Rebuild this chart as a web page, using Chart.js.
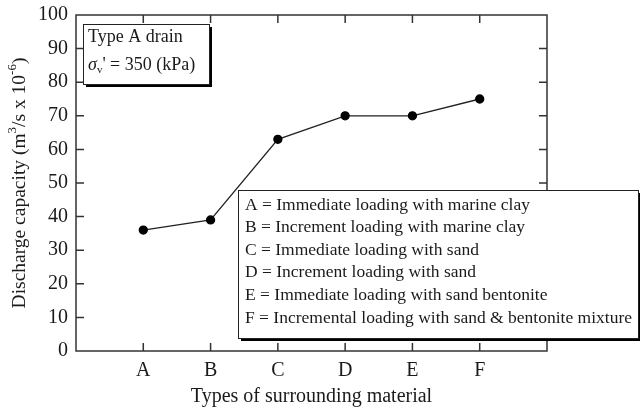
<!DOCTYPE html>
<html>
<head>
<meta charset="utf-8">
<script src="https://cdn.jsdelivr.net/npm/chart.js@4.4.1/dist/chart.umd.min.js"></script>
<style>
  html, body { margin: 0; padding: 0; background: #fff; }
  #wrap { width: 640px; height: 409px; }
</style>
</head>
<body>
<div id="wrap"><canvas id="dischargeChart" width="640" height="409"></canvas></div>
<script>
// data
const categories = ["A", "B", "C", "D", "E", "F"];
const capacity = [36, 39, 63, 70, 70, 75];
const yMin = 0, yMax = 100, yStep = 10;

const noteLines = ["Type A drain", "350 (kPa)"];
const legendLines = [
    "A = Immediate loading with marine clay",
    "B = Increment loading with marine clay",
    "C = Immediate loading with sand",
    "D = Increment loading with sand",
    "E = Immediate loading with sand bentonite",
    "F = Incremental loading with sand & bentonite mixture"
];

const FONT = "'Liberation Serif', 'Times New Roman', serif";
const INK = "#1a1a1a";

// x axis has an empty slot at each end, like the original
const xLabels = [""].concat(categories, [""]);
const yValues = [null].concat(capacity, [null]);

function shadowBox(ctx, x, y, w, h) {
    ctx.save();
    ctx.fillStyle = "#000";
    ctx.fillRect(x + 3, y + 3, w, h);
    ctx.fillStyle = "#fff";
    ctx.fillRect(x, y, w, h);
    ctx.strokeStyle = "#222";
    ctx.lineWidth = 1;
    ctx.strokeRect(x + 0.5, y + 0.5, w, h);
    ctx.restore();
}

const framePlugin = {
    id: "frame",
    afterDatasetsDraw(chart) {
        const ctx = chart.ctx;
        const a = chart.chartArea;
        const xs = chart.scales.x, ys = chart.scales.y;
        ctx.save();
        ctx.strokeStyle = "#333";
        ctx.lineWidth = 1.5;
        ctx.strokeRect(a.left, a.top, a.right - a.left, a.bottom - a.top);
        ctx.beginPath();
        // inward ticks, all four sides
        for (let i = 1; i <= categories.length; i++) {
            const px = xs.getPixelForValue(i);
            ctx.moveTo(px, a.bottom); ctx.lineTo(px, a.bottom - 8);
            ctx.moveTo(px, a.top); ctx.lineTo(px, a.top + 8);
        }
        for (let v = yMin + yStep; v < yMax; v += yStep) {
            const py = ys.getPixelForValue(v);
            ctx.moveTo(a.left, py); ctx.lineTo(a.left + 8, py);
            ctx.moveTo(a.right, py); ctx.lineTo(a.right - 8, py);
        }
        ctx.stroke();
        ctx.restore();
    },
    afterDraw(chart) {
        const ctx = chart.ctx;
        const a = chart.chartArea;
        ctx.save();
        ctx.fillStyle = INK;
        ctx.textBaseline = "middle";

        // note box, top left
        shadowBox(ctx, a.left + 7, a.top + 9, 126, 60);
        ctx.fillStyle = INK;
        ctx.font = "18px " + FONT;
        ctx.fillText(noteLines[0], a.left + 12, a.top + 22);
        let x = a.left + 12, y = a.top + 50;
        ctx.font = "italic 18px " + FONT;
        ctx.fillText("\u03c3", x, y);
        x += ctx.measureText("\u03c3").width;
        ctx.font = "11px " + FONT;
        ctx.fillText("v", x, y + 5);
        x += ctx.measureText("v").width;
        ctx.font = "18px " + FONT;
        ctx.fillText("' = " + noteLines[1], x, y);

        // legend box
        shadowBox(ctx, 238, 190, 400, 148);
        ctx.fillStyle = INK;
        ctx.font = "17.5px " + FONT;
        legendLines.forEach((t, i) => ctx.fillText(t, 245, 205 + i * 22.6));

        // y axis title with superscripts
        ctx.translate(20, (a.top + a.bottom) / 2);
        ctx.rotate(-Math.PI / 2);
        const parts = [
            ["Discharge capacity (m", 19.5, 0],
            ["3", 13, -7],
            ["/s x 10", 19.5, 0],
            ["-6", 13, -7],
            [")", 19.5, 0]
        ];
        let total = 0;
        parts.forEach(p => { ctx.font = p[1] + "px " + FONT; total += ctx.measureText(p[0]).width; });
        let px = -total / 2;
        parts.forEach(p => {
            ctx.font = p[1] + "px " + FONT;
            ctx.fillText(p[0], px, p[2]);
            px += ctx.measureText(p[0]).width;
        });
        ctx.restore();
    }
};

const ctx = document.getElementById("dischargeChart").getContext("2d");
const chart = new Chart(ctx, {
    type: "line",
    data: {
        labels: xLabels,
        datasets: [{
            data: yValues,
            borderColor: "#222",
            borderWidth: 1.3,
            pointRadius: 4,
            pointBackgroundColor: "#000",
            pointBorderColor: "#000",
            tension: 0,
            fill: false
        }]
    },
    options: {
        responsive: false,
        animation: false,
        devicePixelRatio: 1,
        layout: { padding: { top: 15, right: 93, bottom: 0, left: 0 } },
        plugins: {
            legend: { display: false },
            tooltip: { enabled: false },
            title: { display: false }
        },
        scales: {
            x: {
                type: "category",
                offset: false,
                grid: { display: false, drawTicks: false },
                border: { display: false },
                ticks: {
                    color: INK,
                    font: { family: FONT, size: 20 },
                    padding: 8,
                    autoSkip: false,
                    maxRotation: 0
                },
                title: {
                    display: true,
                    text: "Types of surrounding material",
                    color: INK,
                    font: { family: FONT, size: 20 },
                    padding: { top: 4, bottom: 0 }
                },
                afterFit(scale) {
                    scale.height = 58;
                    scale.paddingLeft = 0;
                    scale.paddingRight = 0;
                }
            },
            y: {
                min: yMin,
                max: yMax,
                grid: { display: false, drawTicks: false },
                border: { display: false },
                ticks: {
                    stepSize: yStep,
                    color: INK,
                    font: { family: FONT, size: 20 },
                    padding: 8
                },
                afterFit(scale) {
                    scale.width = 76;
                    scale.paddingTop = 0;
                    scale.paddingBottom = 0;
                }
            }
        }
    },
    plugins: [framePlugin]
});
</script>
</body>
</html>
